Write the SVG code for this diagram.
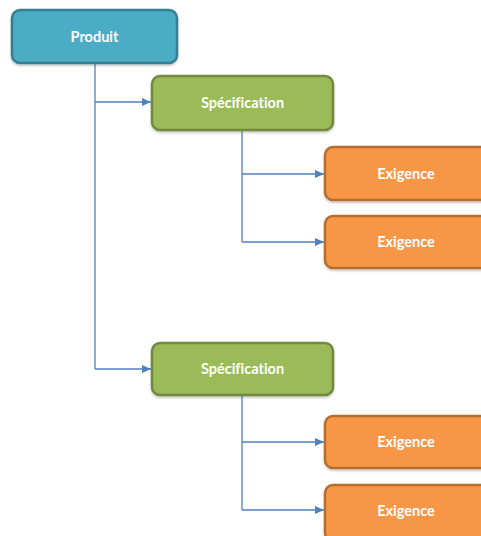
<svg xmlns="http://www.w3.org/2000/svg" width="481" height="536" viewBox="0 0 481 536">
  <defs>
    <marker id="arrow" markerWidth="9" markerHeight="8" refX="9" refY="4" orient="auto" markerUnits="userSpaceOnUse">
      <path d="M0,0 L9,4 L0,8 Z" fill="#4F81BD"/>
    </marker>
    <filter id="shadow" x="-10%" y="-10%" width="120%" height="130%">
      <feDropShadow dx="0" dy="1.5" stdDeviation="1.2" flood-color="#000" flood-opacity="0.25"/>
    </filter>
  </defs>
  <style>
    .box { stroke-width: 2.5; filter: url(#shadow); }
    .produit { fill: #4BACC6; stroke: #357F93; }
    .spec { fill: #9BBB59; stroke: #71893F; }
    .exig { fill: #F79646; stroke: #B66D31; }
    .label { font-family: Lato, "Open Sans", sans-serif; font-weight: bold; font-size: 14.5px; font-variant-ligatures: none; fill: #FFFFFF; text-anchor: middle; dominant-baseline: central; }
    .conn { fill: none; stroke: #4F81BD; stroke-width: 1.3; }
  </style>
  <rect width="481" height="536" fill="#FFFFFF"/>

  <g id="connectors">
    <path class="conn" d="M95,63 V369"/>
    <path class="conn" d="M95,102 H151" marker-end="url(#arrow)"/>
    <path class="conn" d="M95,369 H151" marker-end="url(#arrow)"/>
    <path class="conn" d="M242,130 V242"/>
    <path class="conn" d="M242,174 H324" marker-end="url(#arrow)"/>
    <path class="conn" d="M242,242 H324" marker-end="url(#arrow)"/>
    <path class="conn" d="M242,395 V510"/>
    <path class="conn" d="M242,442 H324" marker-end="url(#arrow)"/>
    <path class="conn" d="M242,510 H324" marker-end="url(#arrow)"/>
  </g>

  <g id="produit">
    <rect class="box produit" x="12" y="10" width="165" height="53" rx="8"/>
    <text class="label" x="94.5" y="36">Produit</text>
  </g>

  <g id="specification-1">
    <rect class="box spec" x="152" y="76" width="181" height="54" rx="8"/>
    <text class="label" x="242.5" y="102">Spécification</text>
  </g>
  <g id="exigence-1">
    <rect class="box exig" x="325" y="147" width="170" height="53" rx="8"/>
    <text class="label" x="406" y="173">Exigence</text>
  </g>
  <g id="exigence-2">
    <rect class="box exig" x="325" y="216" width="170" height="52" rx="8"/>
    <text class="label" x="406" y="241">Exigence</text>
  </g>

  <g id="specification-2">
    <rect class="box spec" x="152" y="343" width="181" height="52" rx="8"/>
    <text class="label" x="242.5" y="368">Spécification</text>
  </g>
  <g id="exigence-3">
    <rect class="box exig" x="325" y="416" width="170" height="52" rx="8"/>
    <text class="label" x="406" y="441">Exigence</text>
  </g>
  <g id="exigence-4">
    <rect class="box exig" x="325" y="485" width="170" height="56" rx="8"/>
    <text class="label" x="406" y="510">Exigence</text>
  </g>
</svg>
